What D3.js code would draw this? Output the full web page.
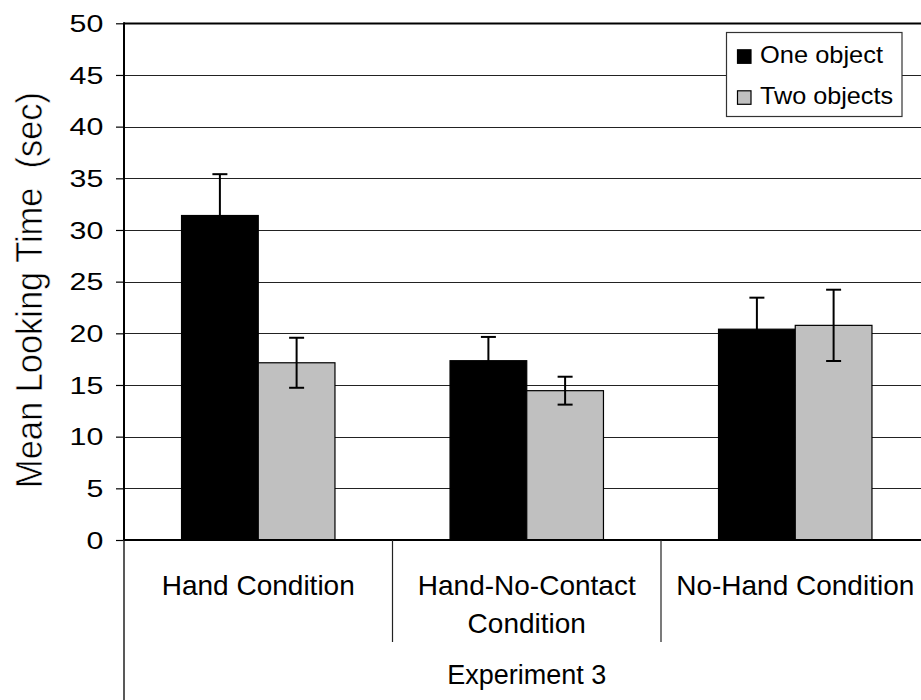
<!DOCTYPE html>
<html>
<head>
<meta charset="utf-8">
<script src="https://cdn.jsdelivr.net/npm/d3@7"></script>
<style>
  html, body { margin: 0; padding: 0; background: #fff; }
  svg { display: block; }
  text { font-family: "Liberation Sans", Arial, sans-serif; fill: #000; }
</style>
</head>
<body>
<svg id="chart" width="921" height="700"></svg>
<script>
// ---- data ----
const categories = ["Hand Condition", "Hand-No-Contact Condition", "No-Hand Condition"];
const categoryLines = [["Hand Condition"], ["Hand-No-Contact", "Condition"], ["No-Hand Condition"]];
const seriesNames = ["One object", "Two objects"];
const seriesColors = ["#000000", "#c0c0c0"];
const oneObject = [31.4, 17.35, 20.4];
const oneObjectErr = [4.0, 2.3, 3.05];
const twoObjects = [17.15, 14.45, 20.77];
const twoObjectsErr = [2.42, 1.35, 3.45];
const yTicks = [0, 5, 10, 15, 20, 25, 30, 35, 40, 45, 50];
const groupLabel = "Experiment 3";
const yLabel = "Mean Looking Time  (sec)";

const values = [oneObject, twoObjects];
const errs = [oneObjectErr, twoObjectsErr];

// ---- layout ----
const svg = d3.select("#chart");
const pLeft = 124, pRight = 929.5, pTop = 23.3, pBottom = 540;

const y = d3.scaleLinear().domain([0, 50]).range([pBottom, pTop]);
const x0 = d3.scaleBand().domain(categories).range([pLeft, pRight]).padding(0);
const x1 = d3.scaleBand().domain(seriesNames).range([0, x0.bandwidth()])
  .paddingInner(0).paddingOuter(0.75);

// gridlines
svg.append("g").selectAll("line").data(yTicks.filter(d => d > 0)).join("line")
  .attr("x1", pLeft).attr("x2", 921)
  .attr("y1", d => Math.round(y(d)) + 0.5).attr("y2", d => Math.round(y(d)) + 0.5)
  .attr("stroke", d => d === 50 ? "#000" : "#222")
  .attr("stroke-width", d => d === 50 ? 2 : 1);

// bars
const rows = [];
categories.forEach((c, i) => seriesNames.forEach((s, j) => rows.push({
  c, s, j, v: values[j][i], e: errs[j][i]
})));

svg.append("g").selectAll("rect").data(rows).join("rect")
  .attr("x", d => x0(d.c) + x1(d.s))
  .attr("width", x1.bandwidth())
  .attr("y", d => y(d.v))
  .attr("height", d => y(0) - y(d.v))
  .attr("fill", d => seriesColors[d.j])
  .attr("stroke", "#000")
  .attr("stroke-width", 1.2);

// error bars
const eg = svg.append("g").attr("stroke", "#000").attr("stroke-width", 2);
rows.forEach(d => {
  const cx = x0(d.c) + x1(d.s) + x1.bandwidth() / 2;
  eg.append("line").attr("x1", cx).attr("x2", cx)
    .attr("y1", y(d.v + d.e)).attr("y2", y(d.v - d.e));
  [d.v + d.e, d.v - d.e].forEach(v => {
    eg.append("line").attr("x1", cx - 7.5).attr("x2", cx + 7.5)
      .attr("y1", y(v)).attr("y2", y(v));
  });
});

// y axis
const sx = 1.32;
const yAxis = d3.axisLeft(y).tickValues(yTicks).tickSize(8).tickSizeOuter(0);
const ya = svg.append("g").attr("transform", `translate(${pLeft},0)`).call(yAxis);
ya.select(".domain").remove();
ya.selectAll(".tick line").attr("stroke", "#000").attr("stroke-width", 1.2);
ya.selectAll(".tick text")
  .attr("x", -20.7 / sx)
  .attr("dy", "0.35em")
  .attr("transform", `scale(${sx},1)`)
  .style("font-size", "23px")
  .style("font-family", "'Liberation Sans', Arial, sans-serif")
  .attr("fill", "#000");

// axis lines
svg.append("line").attr("x1", pLeft).attr("x2", pLeft).attr("y1", pTop - 1).attr("y2", pBottom)
  .attr("stroke", "#000").attr("stroke-width", 2);
svg.append("line").attr("x1", pLeft).attr("x2", pLeft).attr("y1", pBottom).attr("y2", 700)
  .attr("stroke", "#222").attr("stroke-width", 1.5);
svg.append("line").attr("x1", pLeft).attr("x2", 921).attr("y1", pBottom).attr("y2", pBottom)
  .attr("stroke", "#000").attr("stroke-width", 2);

// category separators
svg.append("g").selectAll("line").data(categories.slice(1)).join("line")
  .attr("x1", d => x0(d)).attr("x2", d => x0(d))
  .attr("y1", pBottom).attr("y2", 642)
  .attr("stroke", "#222").attr("stroke-width", 1.2);

// category labels
categories.forEach((c, i) => {
  const t = svg.append("text")
    .attr("x", x0(c) + x0.bandwidth() / 2)
    .attr("y", 595)
    .attr("text-anchor", "middle")
    .style("font-size", "28px");
  categoryLines[i].forEach((ln, k) => {
    t.append("tspan").attr("x", x0(c) + x0.bandwidth() / 2)
      .attr("dy", k === 0 ? 0 : 38).text(ln);
  });
});

// group label
svg.append("text")
  .attr("x", (pLeft + pRight) / 2).attr("y", 684)
  .attr("text-anchor", "middle")
  .style("font-size", "27px")
  .text(groupLabel);

// y label (thin, condensed look)
svg.append("text")
  .attr("transform", "translate(42,290) rotate(-90)")
  .attr("text-anchor", "middle")
  .attr("textLength", 396)
  .attr("lengthAdjust", "spacingAndGlyphs")
  .style("white-space", "pre")
  .attr("xml:space", "preserve")
  .style("font-size", "37px")
  .style("font-family", "'Liberation Sans Narrow', 'Liberation Sans', Arial, sans-serif")
  .attr("stroke", "#fff")
  .attr("stroke-width", 0.6)
  .text(yLabel);

// legend
const lg = svg.append("g");
lg.append("rect").attr("x", 726.5).attr("y", 32.5).attr("width", 175.5).attr("height", 84)
  .attr("fill", "#fff").attr("stroke", "#333").attr("stroke-width", 1.2);
const legendY = [56.3, 97.3];
const legendLen = [123, 133];
seriesNames.forEach((s, j) => {
  lg.append("rect").attr("x", 737.5).attr("y", legendY[j] - 6.5)
    .attr("width", 13.5).attr("height", 13.5)
    .attr("fill", seriesColors[j]).attr("stroke", "#000").attr("stroke-width", 1.2);
  lg.append("text").attr("x", 760).attr("y", legendY[j] + 6.5)
    .attr("textLength", legendLen[j]).attr("lengthAdjust", "spacingAndGlyphs")
    .style("font-size", "24px").text(s);
});
</script>
</body>
</html>
